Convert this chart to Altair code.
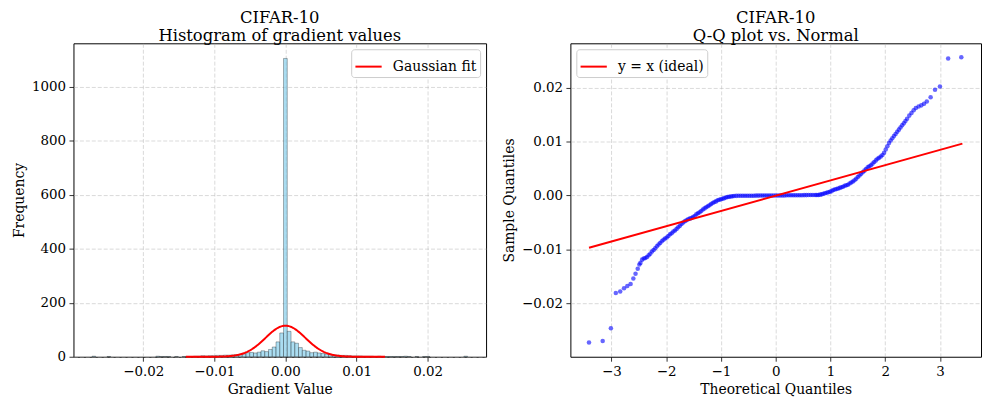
import altair as alt
import numpy as np
import pandas as pd

FONT = "DejaVu Serif"

# ---------------- data ----------------
hist_title = ["CIFAR-10", "Histogram of gradient values"]
qq_title = ["CIFAR-10", "Q-Q plot vs. Normal"]

hist_min = -0.0272
hist_max = 0.0256
hist_counts = [
    2, 0, 0, 0, 1, 0, 0, 0, 0, 0,
    0, 0, 0, 0, 0, 0, 0, 2, 1, 1,
    1, 0, 1, 0, 1, 1, 1, 2, 2, 4,
    3, 4, 4, 5, 5, 6, 6, 7, 8, 9,
    11, 15, 16, 14, 17, 22, 19, 27, 36, 55,
    88, 1104, 94, 55, 50, 34, 24, 21, 15, 17,
    14, 12, 10, 9, 7, 6, 5, 5, 4, 3,
    3, 3, 2, 2, 2, 1, 2, 1, 1, 1,
    1, 1, 1, 2, 1, 0, 1, 0, 1, 1,
    0, 0, 0, 0, 0, 0, 0, 0, 0, 2,
]

gauss_mu = 0.0
gauss_sigma = 0.0028
gauss_peak = 115.0

qq_theoretical = [
    -3.41, -3.16, -3.01, -2.92, -2.84, -2.77, -2.71, -2.65, -2.60, -2.56,
    -2.52, -2.49, -2.47, -2.44, -2.41, -2.38, -2.35, -2.32, -2.29, -2.26,
    -2.23, -2.20, -2.17, -2.14, -2.11, -2.08, -2.05, -2.02, -1.99, -1.96,
    -1.93, -1.90, -1.87, -1.84, -1.81, -1.78, -1.75, -1.72, -1.69, -1.66,
    -1.63, -1.60, -1.57, -1.54, -1.51, -1.48, -1.45, -1.42, -1.39, -1.36,
    -1.33, -1.30, -1.27, -1.24, -1.21, -1.18, -1.15, -1.12, -1.09, -1.06,
    -1.03, -1.00, -0.97, -0.94, -0.91, -0.88, -0.85, -0.82, -0.79, -0.76,
    -0.72, -0.68, -0.64, -0.60, -0.56, -0.52, -0.48, -0.44, -0.40, -0.36,
    -0.32, -0.28, -0.24, -0.20, -0.16, -0.12, -0.08, -0.04, 0.00, 0.04,
    0.08, 0.12, 0.16, 0.20, 0.24, 0.28, 0.32, 0.36, 0.40, 0.44,
    0.48, 0.52, 0.56, 0.60, 0.64, 0.68, 0.72, 0.75,
    0.78, 0.81, 0.84, 0.87, 0.90, 0.93, 0.96, 0.99, 1.02, 1.05,
    1.08, 1.11, 1.14, 1.17, 1.20, 1.23, 1.26, 1.29, 1.32, 1.35,
    1.38, 1.41, 1.44, 1.47, 1.50, 1.53, 1.56, 1.59, 1.62, 1.65,
    1.68, 1.71, 1.74, 1.77, 1.80, 1.83, 1.86, 1.89, 1.92, 1.95,
    1.98, 2.01, 2.04, 2.07, 2.10, 2.13, 2.16, 2.19, 2.22, 2.25,
    2.28, 2.31, 2.34, 2.37, 2.40,
    2.44, 2.48, 2.52, 2.56, 2.61, 2.66, 2.71, 2.76, 2.83, 2.91,
    3.00, 3.15, 3.39,
]
qq_sample = [
    -0.02725, -0.0270, -0.0246, -0.0181, -0.0178, -0.0172, -0.0168, -0.0164, -0.0154, -0.0145,
    -0.0136, -0.0128, -0.0125, -0.0119, -0.0117, -0.0116, -0.0114, -0.0111, -0.0108, -0.0104,
    -0.0101, -0.0098, -0.0094, -0.0091, -0.0088, -0.0085, -0.0082, -0.0080, -0.0078, -0.0075,
    -0.0072, -0.0070, -0.0067, -0.0065, -0.0062, -0.0059, -0.0056, -0.0053, -0.0050, -0.0048,
    -0.0046, -0.0044, -0.0043, -0.0042, -0.0040, -0.0038, -0.0035, -0.0033, -0.0031, -0.0029,
    -0.0026, -0.0024, -0.0022, -0.0020, -0.0018, -0.0016, -0.0014, -0.0012, -0.0011, -0.0009,
    -0.0008, -0.0007, -0.0006, -0.0005, -0.0004, -0.0003, -0.00025, -0.0002, -0.00015, -0.0001,
    -0.00008, -0.00007, -0.00007, -0.00006, -0.00006, -0.00005, -0.00005, -0.00004, -0.00004, -0.00003,
    -0.00003, -0.00002, -0.00002, -0.00001, -0.00001, 0.0, 0.0, 0.0, 0.0, 0.0,
    0.0, 0.00001, 0.00001, 0.00002, 0.00002, 0.00003, 0.00003, 0.00004, 0.00004, 0.00005,
    0.00005, 0.00006, 0.00006, 0.00007, 0.00007, 0.00008, 0.00008, 0.00009,
    0.0001, 0.00015, 0.0002, 0.0003, 0.0004, 0.0005, 0.0006, 0.0007, 0.0008, 0.0010,
    0.0011, 0.0012, 0.0013, 0.0014, 0.0015, 0.0016, 0.0018, 0.0019, 0.0020, 0.0022,
    0.0024, 0.0026, 0.0028, 0.0031, 0.0034, 0.0037, 0.0040, 0.0043, 0.0046, 0.0049,
    0.0052, 0.0054, 0.0056, 0.0059, 0.0062, 0.0065, 0.0068, 0.0070, 0.0072, 0.0075,
    0.0079, 0.0085, 0.0091, 0.0097, 0.0102, 0.0106, 0.0110, 0.0114, 0.0118, 0.0122,
    0.0126, 0.0130, 0.0134, 0.0138, 0.0142,
    0.0148, 0.0153, 0.0158, 0.0162, 0.0165, 0.0167, 0.0170, 0.0174, 0.0182, 0.0196,
    0.0202, 0.0254, 0.0256,
]
qq_line_x = [-3.41, 3.41]
qq_line_y = [-0.0097, 0.0096]

# ---------------- tables ----------------
edges = np.linspace(hist_min, hist_max, len(hist_counts) + 1)
hist_df = pd.DataFrame({"lo": edges[:-1], "hi": edges[1:], "count": hist_counts})
hist_df["base"] = 0
hist_df = hist_df[hist_df["count"] > 0]

gx = np.linspace(gauss_mu - 5 * gauss_sigma, gauss_mu + 5 * gauss_sigma, 241)
gauss_df = pd.DataFrame({
    "x": gx,
    "y": gauss_peak * np.exp(-0.5 * ((gx - gauss_mu) / gauss_sigma) ** 2),
    "series": "Gaussian fit",
})

qq_df = pd.DataFrame({"tq": qq_theoretical, "sq": qq_sample})
line_df = pd.DataFrame({"tq": qq_line_x, "sq": qq_line_y, "series": "y = x (ideal)"})

AX = dict(labelFont=FONT, labelFontSize=13.5, labelColor="black",
          titleFont=FONT, titleFontSize=14, titleFontWeight="normal", titleColor="black")

# ---------------- left: histogram ----------------
hx_scale = alt.Scale(domain=[-0.0298, 0.0282], nice=False, zero=False)
hy_scale = alt.Scale(domain=[0, 1160], nice=False, zero=False)
hx_axis = alt.Axis(values=[-0.02, -0.01, 0, 0.01, 0.02], format=".2f", title="Gradient Value", **AX)
hy_axis = alt.Axis(values=[0, 200, 400, 600, 800, 1000], format="d", title="Frequency", **AX)

bars = alt.Chart(hist_df).mark_bar(
    fill="#87CEEB", fillOpacity=0.7, stroke="black", strokeOpacity=0.6, strokeWidth=0.5
).encode(
    x=alt.X("lo:Q", scale=hx_scale, axis=hx_axis),
    x2="hi:Q",
    y=alt.Y("count:Q", scale=hy_scale, axis=hy_axis),
    y2="base:Q",
)

gauss = alt.Chart(gauss_df).mark_line(strokeWidth=2).encode(
    x=alt.X("x:Q", scale=hx_scale, axis=hx_axis),
    y=alt.Y("y:Q", scale=hy_scale, axis=hy_axis),
    color=alt.Color(
        "series:N",
        scale=alt.Scale(domain=["Gaussian fit"], range=["red"]),
        legend=alt.Legend(orient="top-right", title=None),
    ),
)

left = alt.layer(bars, gauss).properties(
    width=416, height=316,
    title=alt.TitleParams(hist_title),
)

# ---------------- right: Q-Q plot ----------------
qx_scale = alt.Scale(domain=[-3.75, 3.75], nice=False, zero=False)
qy_scale = alt.Scale(domain=[-0.0299, 0.0282], nice=False, zero=False)
qx_axis = alt.Axis(values=[-3, -2, -1, 0, 1, 2, 3], format="d", title="Theoretical Quantiles", **AX)
qy_axis = alt.Axis(values=[-0.02, -0.01, 0, 0.01, 0.02], format=".2f", title="Sample Quantiles", **AX)

pts = alt.Chart(qq_df).mark_circle(color="blue", opacity=0.6, size=21).encode(
    x=alt.X("tq:Q", scale=qx_scale, axis=qx_axis),
    y=alt.Y("sq:Q", scale=qy_scale, axis=qy_axis),
)

ideal = alt.Chart(line_df).mark_line(strokeWidth=2).encode(
    x=alt.X("tq:Q", scale=qx_scale, axis=qx_axis),
    y=alt.Y("sq:Q", scale=qy_scale, axis=qy_axis),
    color=alt.Color(
        "series:N",
        scale=alt.Scale(domain=["y = x (ideal)"], range=["red"]),
        legend=alt.Legend(orient="top-left", title=None),
    ),
)

right = alt.layer(pts, ideal).properties(
    width=414, height=316,
    title=alt.TitleParams(qq_title),
)

chart = alt.hconcat(left, right, spacing=15).resolve_scale(
    color="independent"
).properties(
    padding={"left": 4, "top": 0, "right": 0, "bottom": 0}
).configure_view(
    stroke="black", strokeWidth=1
).configure_axis(
    labelFont=FONT, labelFontSize=13.5, labelColor="black",
    titleFont=FONT, titleFontSize=14, titleFontWeight="normal", titleColor="black",
    tickColor="black", tickSize=4.5, tickWidth=0.8, labelPadding=3.5, titlePadding=5,
    grid=True, gridColor="#b0b0b0", gridOpacity=0.6, gridDash=[4, 2], gridWidth=0.8,
    domain=False,
).configure_title(
    font=FONT, fontSize=16.5, fontWeight="normal", color="black",
    anchor="middle", lineHeight=18, offset=-1,
).configure_legend(
    labelFont=FONT, labelFontSize=14, labelColor="black",
    symbolType="stroke", symbolStrokeWidth=2, symbolSize=700,
    fillColor="white", strokeColor="#cccccc", padding=3, cornerRadius=3,
    offset=6, labelOffset=10,
)

chart.save("out.html", embed_options={"renderer": "svg", "actions": False})
